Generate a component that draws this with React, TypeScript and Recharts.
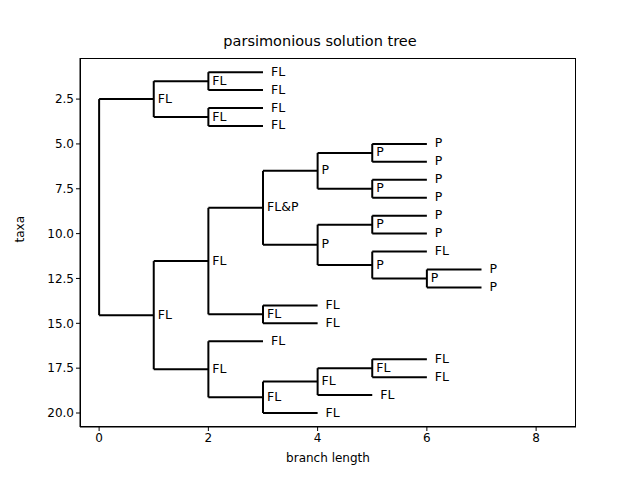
import { ComposedChart, Line, Scatter, XAxis, YAxis } from "recharts";

// tree nodes: id, parent, branch position, state label (leaves listed in taxa order)
const nodeIds = ["r", "a", "a1", "L1", "L2", "a2", "L3", "L4", "b", "c", "d", "e", "e1", "L5", "L6", "e2", "L7", "L8", "f", "f1", "L9", "L10", "f2", "L11", "g", "L12", "L13", "h", "L14", "L15", "i", "L16", "j", "k", "k1", "L17", "L18", "L19", "L20"];
const nodeParents = ["", "r", "a", "a1", "a1", "a", "a2", "a2", "r", "b", "c", "d", "e", "e1", "e1", "e", "e2", "e2", "d", "f", "f1", "f1", "f", "f2", "f2", "g", "g", "c", "h", "h", "b", "i", "i", "j", "k", "k1", "k1", "k", "j"];
const nodeX = [0, 1, 2, 3, 3, 2, 3, 3, 1, 2, 3, 4, 5, 6, 6, 5, 6, 6, 4, 5, 6, 6, 5, 6, 6, 7, 7, 3, 4, 4, 2, 3, 3, 4, 5, 6, 6, 5, 4];
const nodeLabels = ["", "FL", "FL", "FL", "FL", "FL", "FL", "FL", "FL", "FL", "FL&P", "P", "P", "P", "P", "P", "P", "P", "P", "P", "P", "P", "P", "FL", "P", "P", "P", "FL", "FL", "FL", "FL", "FL", "FL", "FL", "FL", "FL", "FL", "FL", "FL"];

const xTicks = [0, 2, 4, 6, 8];
const yTicks = [2.5, 5, 7.5, 10, 12.5, 15, 17.5, 20];

const children = (id: string) => nodeIds.filter((_, i) => nodeParents[i] === id);
const yPos: Record<string, number> = {};
let leafCount = 0;
nodeIds.forEach((id) => {
  if (children(id).length === 0) yPos[id] = ++leafCount;
});
const resolveY = (id: string): number => {
  if (yPos[id] === undefined) {
    const ys = children(id).map(resolveY);
    yPos[id] = ys.reduce((s, v) => s + v, 0) / ys.length;
  }
  return yPos[id];
};
nodeIds.forEach(resolveY);
const xOf = (id: string) => nodeX[nodeIds.indexOf(id)];

const segments: { x: number; y: number }[][] = [];
nodeIds.forEach((id, i) => {
  const p = nodeParents[i];
  if (p) segments.push([{ x: xOf(p), y: yPos[id] }, { x: nodeX[i], y: yPos[id] }]);
  const kids = children(id);
  if (kids.length) {
    const ys = kids.map((k) => yPos[k]);
    segments.push([{ x: nodeX[i], y: Math.min(...ys) }, { x: nodeX[i], y: Math.max(...ys) }]);
  }
});

const labelData = nodeIds
  .map((id, i) => ({ x: nodeX[i], y: yPos[id], label: nodeLabels[i], leaf: children(id).length === 0 }))
  .filter((d) => d.label);

export default function App() {
  return (
    <div style={{ margin: -8, fontFamily: "DejaVu Sans" }}>
      <div style={{ position: "relative", width: 640, height: 480 }}>
        <div style={{ position: "absolute", top: 33, width: 640, textAlign: "center", fontSize: 14.5 }}>
          parsimonious solution tree
        </div>
        <svg width={640} height={480} style={{ position: "absolute", left: 0, top: 0, pointerEvents: "none" }}>
          <rect x={80.5} y={58.5} width={495} height={368} fill="none" stroke="#000" strokeWidth={1} />
        </svg>
        <ComposedChart width={640} height={480} margin={{ top: 58, right: 64, bottom: 18, left: 20 }}>
          <XAxis type="number" dataKey="x" domain={[-0.35, 8.73]} ticks={xTicks} allowDataOverflow
            stroke="#000" tick={{ fill: "#000", fontSize: 12 }} tickSize={4} height={35}
            label={{ value: "branch length", position: "insideBottom", offset: 0, fill: "#000", fontSize: 12 }} />
          <YAxis type="number" dataKey="y" reversed domain={[0.21, 20.78]} ticks={yTicks} allowDataOverflow
            tickFormatter={(v: number) => v.toFixed(1)}
            stroke="#000" tick={{ fill: "#000", fontSize: 12 }} tickSize={4} width={60}
            label={{ value: "taxa", angle: -90, position: "insideLeft", offset: 0, fill: "#000", fontSize: 12 }} />
          {segments.map((seg, i) => (
            <Line key={i} data={seg} dataKey="y" stroke="#000" strokeWidth={2} dot={false} isAnimationActive={false} />
          ))}
          <Scatter data={labelData} dataKey="y" isAnimationActive={false}
            shape={(p: any) => (
              <text x={p.cx + (p.payload.leaf ? 8 : 4)} y={p.cy - 1} dominantBaseline="central" fontSize={12.5} fill="#000">
                {p.payload.label}
              </text>
            )} />
        </ComposedChart>
      </div>
    </div>
  );
}
